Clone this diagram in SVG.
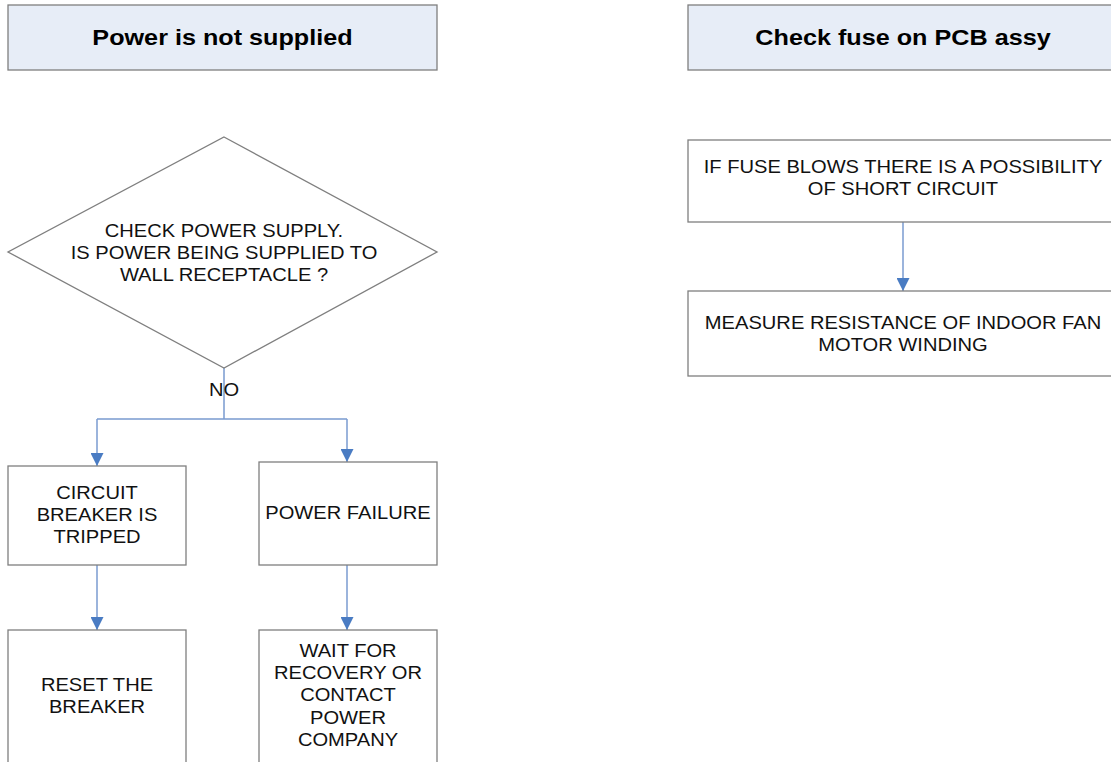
<svg xmlns="http://www.w3.org/2000/svg" width="1111" height="762" viewBox="0 0 1111 762">
<style>
.hdr{fill:#E7EDF7;stroke:#7f7f7f;stroke-width:1.3}
.box{fill:#fff;stroke:#7f7f7f;stroke-width:1.3}
.ht{font-family:"Liberation Sans",Arial,sans-serif;font-weight:bold;font-size:22.5px;fill:#000;text-anchor:middle}
.t{font-family:"Liberation Sans",Arial,sans-serif;font-size:18.3px;fill:#111;text-anchor:middle}
.c{fill:none;stroke:#7A9BD0;stroke-width:1.5}
</style>
<defs>
<marker id="arr" viewBox="0 0 10 10" refX="10" refY="5" markerWidth="13" markerHeight="13" markerUnits="userSpaceOnUse" orient="auto">
<path d="M0,0 L10,5 L0,10 z" fill="#4A7CC3"/>
</marker>
</defs>
<rect width="1111" height="762" fill="#fff"/>
<g id="connectors">
<path class="c" d="M224,368 V419 M97,419 H347"/>
<path class="c" d="M97,419 V466" marker-end="url(#arr)"/>
<path class="c" d="M347,419 V462" marker-end="url(#arr)"/>
<path class="c" d="M97,565 V630" marker-end="url(#arr)"/>
<path class="c" d="M347,565 V630" marker-end="url(#arr)"/>
<path class="c" d="M903,222 V291" marker-end="url(#arr)"/>
</g>
<g id="hdr1"><rect class="hdr" x="8" y="5" width="429" height="65"/><g transform="translate(222.5,0) scale(1.12,1)"><text class="ht" x="0" y="45">Power is not supplied</text></g></g>
<g id="hdr2"><rect class="hdr" x="688" y="5" width="440" height="65"/><g transform="translate(903,0) scale(1.12,1)"><text class="ht" x="0" y="45">Check fuse on PCB assy</text></g></g>
<g id="decision"><polygon class="box" points="224,137 437,252 224,368 8,252"/>
<g transform="translate(224,0) scale(1.1,1)">
<text class="t" x="0" y="237">CHECK POWER SUPPLY.</text>
<text class="t" x="0" y="259">IS POWER BEING SUPPLIED TO</text>
<text class="t" x="0" y="281">WALL RECEPTACLE ?</text></g></g>
<g id="nolabel"><g transform="translate(224,0) scale(1.1,1)"><text class="t" x="0" y="396">NO</text></g></g>
<g id="breaker"><rect class="box" x="8" y="466" width="178" height="99"/>
<g transform="translate(97,0) scale(1.1,1)"><text class="t" x="0" y="499">CIRCUIT</text><text class="t" x="0" y="521">BREAKER IS</text><text class="t" x="0" y="543">TRIPPED</text></g></g>
<g id="failure"><rect class="box" x="259" y="462" width="178" height="103"/>
<g transform="translate(348,0) scale(1.1,1)"><text class="t" x="0" y="519">POWER FAILURE</text></g></g>
<g id="reset"><rect class="box" x="8" y="630" width="178" height="140"/>
<g transform="translate(97,0) scale(1.1,1)"><text class="t" x="0" y="691">RESET THE</text><text class="t" x="0" y="713">BREAKER</text></g></g>
<g id="wait"><rect class="box" x="259" y="630" width="178" height="140"/>
<g transform="translate(348,0) scale(1.1,1)"><text class="t" x="0" y="657">WAIT FOR</text><text class="t" x="0" y="679">RECOVERY OR</text><text class="t" x="0" y="701">CONTACT</text><text class="t" x="0" y="724">POWER</text><text class="t" x="0" y="746">COMPANY</text></g></g>
<g id="fuse"><rect class="box" x="688" y="140" width="440" height="82"/>
<g transform="translate(903,0) scale(1.1,1)"><text class="t" x="0" y="173">IF FUSE BLOWS THERE IS A POSSIBILITY</text><text class="t" x="0" y="195">OF SHORT CIRCUIT</text></g></g>
<g id="measure"><rect class="box" x="688" y="291" width="440" height="85"/>
<g transform="translate(903,0) scale(1.1,1)"><text class="t" x="0" y="329">MEASURE RESISTANCE OF INDOOR FAN</text><text class="t" x="0" y="351">MOTOR WINDING</text></g></g>
</svg>
